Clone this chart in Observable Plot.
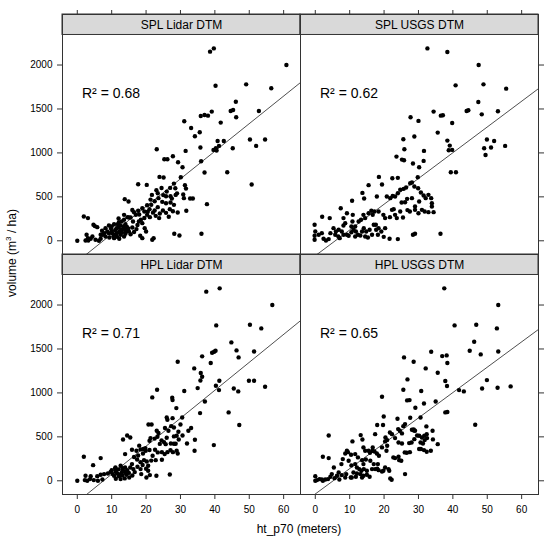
<!DOCTYPE html>
<html><head><meta charset="utf-8">
<script src="https://cdn.jsdelivr.net/npm/d3@7"></script>
<script src="https://cdn.jsdelivr.net/npm/@observablehq/plot@0.6"></script>
<style>body{margin:0;background:#fff}#chart{width:550px;height:541px}</style>
</head><body><div id="chart"></div>
<script>
// Panels (row = method, col = DTM source)
const panelNames = ["SPL Lidar DTM", "SPL USGS DTM", "HPL Lidar DTM", "HPL USGS DTM"];
const panelRows = ["SPL", "SPL", "HPL", "HPL"];
const panelCols = ["Lidar", "USGS", "Lidar", "USGS"];
const r2Values = ["0.68", "0.62", "0.71", "0.65"];
// fitted regression lines
const fitIntercepts = [-237, -170, -242, -150];
const fitSlopes = [31.4, 29.3, 31.8, 28.85];
const xTicks = [0, 10, 20, 30, 40, 50, 60];
const yTicks = [0, 500, 1000, 1500, 2000];

// [ht_p70 (m), volume (m3/ha)]
const splLidar = [[39.7,2189],[38.6,2152],[40.2,1765],[49.1,1780],[56.4,1735],[60.8,2000],
[46.1,1583],[44.6,1477],[45.3,1489],[46.2,1405],[52.8,1477],
[35.9,1420],[37.0,1432],[38.0,1424],[39.1,1470],[41.7,1345],[31.1,1360],[33.1,1284],[35.6,1235],[34.2,1189],
[40.8,1136],[42.6,1136],[41.2,1080],[40.3,1053],[39.6,1034],[40.5,1027],
[50.2,1152],[54.6,1152],[52.0,1080],[45.2,1053],[35.8,1061],[31.5,1023],[23.1,1042],
[36.0,905],[37.0,777],[43.6,780],[50.7,640],[37.7,417],[36.1,80],
[25.3,928],[26.2,928],[27.8,962],[29.3,894],[30.6,837],[23.9,727],[25.1,720],[30.1,723],
[31.3,632],[31.6,594],[28.1,651],[28.5,598],[27.0,602],[17.7,644],[20.2,636],
[23.0,575],[23.4,541],[21.7,522],[21.3,469],[23.6,485],[25.8,507],[27.1,507],[30.8,526],[31.0,485],[32.8,481],[33.6,481],[28.6,522],[31.7,341],
[27.1,435],[28.1,409],[24.7,443],[25.8,428],[20.3,405],[21.5,409],[22.5,345],[23.4,383],[24.9,345],[25.8,318],[26.9,360],[27.8,337],[29.2,322],[26.6,273],[22.8,284],[23.8,258],
[17.7,341],[18.9,371],[19.5,333],[16.5,326],[17.0,295],[20.3,295],[21.1,269],[17.9,220],[18.9,201],[19.6,144],[20.0,106],[18.3,57],[18.9,30],[21.8,11],[22.2,30],[28.2,80],[29.7,61],
[13.8,474],[14.9,447],[13.6,295],[14.6,269],[12.1,212],[12.9,220],[15.5,265],[16.2,220],[16.0,152],[17.2,133],[14.2,106],
[5.8,155],[7.2,114],[8.2,144],[9.2,174],[10.0,163],[10.7,189],[11.4,144],[12.2,106],[12.8,129],[11.1,68],[10.2,87],[9.2,87],[10.5,49],[11.6,45],[12.6,68],[13.6,49],[14.0,80],[15.0,106],[13.4,163],[14.4,159],[11.8,189],[8.7,106],[7.8,87],[6.8,68],[8.2,49],[9.3,38],[10.7,30],[12.2,23],
[1.9,276],[3.1,258],[4.7,182],[5.1,167],[0,0],[2.4,4],[3.2,4],[3.9,23],[5.3,11],[6.3,0],[2.7,68],[4.4,49],[7.3,68],[3.1,30],[6.8,23],[15.0,265],[13.6,239],
[11.0,120],[12.0,150],[13.0,95],[10.0,110],[11.5,85],[12.5,175],[9.8,140],[13.8,130],[14.8,140],[15.5,75],[16.5,100],[17.5,180],[18.5,240],[19.5,260],[20.5,330],[21.0,360],[22.0,320],[24.0,310],[25.0,520],[26.0,560],[27.5,480],[29.0,540],[24.5,600],[22.5,450],[16.0,350],[18.0,300],[14.0,190],[12.0,255]];

const splUsgs = [[32.6,2189],[38.4,2148],[47.5,2000],[40.8,1769],[48.9,1780],[55.5,1731],[47.4,1580],[44.0,1477],[44.5,1485],[48.4,1439],[53.1,1474],[34.4,1470],[36.5,1424],[37.1,1428],[27.7,1405],[30.0,1364],[39.8,1341],[35.6,1231],[25.6,1155],[28.8,1186],[38.4,1140],[39.1,1083],[38.8,1030],[39.8,1034],[49.9,1152],[52.0,1136],[49.1,1053],[51.1,1061],[49.5,977],[55.2,1080],[25.9,1042],[31.6,1023],[23.6,958],[25.2,924],[25.8,917],[28.4,879],[30.2,837],[31.5,909],[39.4,780],[40.9,780],[18.5,727],[22.4,712],[24.0,716],[29.8,723],[15.5,633],[19.4,640],[28.1,663],[13.7,545],[14.2,481],[10.7,455],[17.9,504],
[20.8,504],[21.8,485],[22.5,511],[23.2,504],[24.0,541],[24.7,580],[25.7,591],[26.4,606],[27.6,655],[28.8,617],[29.9,598],[30.7,549],[31.5,515],[32.9,523],[33.7,485],[33.9,428],[33.9,390],[34.4,326],[32.1,485],[30.2,447],[29.0,390],[28.1,485],[26.7,477],[25.1,435],[26.1,439],[26.8,349],[27.5,333],[29.0,352],[30.0,314],[31.0,352],[31.8,333],[32.9,326],[24.7,333],[25.5,265],[23.2,295],[23.7,258],[21.7,269],[22.3,352],[22.8,360],[19.8,295],[20.3,258],[18.4,333],[17.2,333],[16.3,341],[16.7,295],[17.6,182],[18.4,144],[19.2,106],[20.3,144],[18.2,68],[19.9,45],[21.6,23],[24.0,19],[28.4,68],[29.0,80],[36.4,80],[15.5,314],[14.0,295],[14.5,258],[12.6,220],[13.3,239],[10.9,295],[10.8,220],[9.2,314],[8.2,258],[7.4,371],[4.2,258],[2.0,273],[-0.2,182],[0,106],[-0.2,57],[-0.2,11],[1.0,68],[1.9,87],[2.4,23],[3.1,4],[3.9,19],[4.4,87],[5.3,144],[6.0,106],[6.7,49],[7.1,30],[7.7,106],[8.2,174],[8.7,201],[9.2,68],[9.7,57],[10.5,98],[11.1,125],[11.8,106],[12.4,68],[13.1,61],[13.6,106],[14.1,144],[14.8,106],[15.8,125],[16.5,68],[17.0,182],[17.7,125],[10.5,163],[11.6,163],[8.2,68],[6.8,125],[5.8,68],[14.5,49],[15.3,38],[11.6,49]];

const hplLidar = [[37.5,2152],[41.4,2190],[56.7,2000],[40.4,1768],[50.2,1776],[53.5,1734],[44.8,1575],[46.3,1484],[46.9,1404],[51.4,1472],[36.3,1416],[38.8,1340],[39.2,1457],[39.8,1469],[40.2,1480],[29.2,1355],[34.0,1279],[35.9,1226],[36.3,1184],[35.8,1142],[40.3,1082],[41.3,1138],[41.2,1032],[45.5,1051],[46.8,1017],[49.9,1138],[51.4,1138],[54.6,1070],[35.0,1055],[31.1,1021],[23.2,1036],[21.8,949],[37.1,903],[35.7,770],[44.0,778],[47.1,634],[39.7,406],[26.9,72],
[27.6,945],[27.7,918],[28.8,827],[30.5,721],[26.0,721],[26.2,694],[27.7,713],[20.7,641],[21.6,641],[27.3,622],[28.1,607],[29.4,558],[30.6,516],[31.9,425],[32.3,569],[33.1,600],[34.2,467],[34.1,341],
[23.1,569],[23.6,543],[21.3,486],[21.0,455],[23.3,501],[26.0,490],[28.1,505],[28.9,512],[27.2,425],[28.1,421],[28.6,421],[25.2,440],[25.7,417],[27.1,349],[27.8,326],[28.9,341],[29.2,311],[24.6,326],[25.4,304],[26.2,326],[22.6,353],[23.4,323],[24.6,239],[22.8,235],[21.9,285],
[14.5,516],[15.4,493],[13.3,470],[15.9,353],[13.9,304],[17.2,341],[18.4,357],[19.2,361],[19.8,372],[17.7,288],[19.1,311],[19.9,341],[17.4,243],[18.4,212],[19.4,235],[20.2,220],[20.0,137],[20.6,114],[21.1,65],[20.1,38],[23.0,57],[20.6,171],[18.4,133],[18.6,76],[15.4,152],[16.3,133],[13.9,152],[14.5,121],[12.6,171],[13.2,144],[11.6,83],[11.2,106],[9.7,102],[10.3,76],[8.9,83],[7.8,76],[6.8,68],[5.8,53],[10.7,57],[12.1,53],[13.1,61],[14.3,68],[15.1,38],[11.2,23],[12.6,19],[13.8,27],[1.9,273],[6.8,258],[4.6,178],[0,0],[2.2,8],[2.9,0],[2.4,57],[3.7,19],[4.8,8],[6.0,0],[7.3,15],[3.9,53],[15.9,190],[11.1,152],[16.7,99],
[12.0,130],[13.0,100],[14.0,90],[11.0,140],[10.0,120],[12.5,75],[13.5,110],[15.0,90],[16.0,60],[17.5,160],[19.0,180],[21.5,230],[22.5,480],[24.5,460],[25.5,600],[26.5,570],[29.5,470],[30.0,640],[24.0,420],[21.0,350],[18.0,400],[16.5,270]];

const hplUsgs = [[37.5,2190],[53.2,2000],[40.5,1768],[46.8,1776],[52.8,1734],[46.2,1582],[44.9,1480],[48.1,1438],[53.2,1472],[33.7,1469],[36.9,1419],[38.2,1427],[25.8,1404],[28.6,1355],[38.4,1340],[32.1,1279],[35.6,1230],[26.8,1154],[37.8,1135],[25.6,1036],[30.8,1021],[38.3,1078],[41.8,1032],[43.2,1017],[49.9,1146],[48.5,1051],[53.0,1059],[56.8,1074],[19.4,956],[26.7,915],[27.4,918],[29.1,831],[31.6,880],[35.0,903],[37.8,778],[38.4,782],[46.5,638],
[19.9,732],[19.7,634],[23.9,706],[27.6,717],[30.6,721],[26.1,645],[25.6,622],[28.1,581],[28.7,573],[32.3,619],[18.0,634],[17.4,531],[21.7,550],[22.3,531],[23.2,486],[20.4,493],[20.9,463],[20.3,448],[24.1,588],[24.6,569],[25.2,539],[28.6,584],[29.0,569],[29.6,516],[30.2,512],[31.7,512],[32.4,531],[34.1,569],[31.0,493],[31.8,463],[32.5,486],[34.2,471],[35.6,417],[30.6,436],[31.3,425],[30.7,361],[31.6,349],[33.6,341],[30.2,361],[32.4,330],[28.0,436],[27.3,429],[28.8,474],[24.2,436],[25.2,425],[22.7,266],[23.2,258],[24.2,273],[24.4,235],[25.0,228],[26.0,323],[26.6,319],[27.5,326],[20.9,398],[20.7,341],[17.2,334],[16.7,380],[16.6,341],[17.9,311],[18.5,285],[19.4,380],[21.3,133],[21.5,114],[21.8,27],[22.2,11],[20.3,152],[18.2,190],[18.0,137],[15.5,341],[15.9,319],[14.0,380],[14.5,341],[13.2,520],[13.7,470],[10.8,448],[9.2,341],[8.7,311],[9.5,326],[10.4,296],[8.0,247],[3.9,516],[2.2,273],[3.9,258],[5.4,152],[7.6,190],[9.7,228],[11.6,304],[12.4,266],[13.6,235],[14.0,190],[14.7,243],[16.0,228],[17.0,190],[10.5,175],[11.6,190],[12.1,152],[12.8,133],[13.4,114],[14.1,133],[15.0,114],[16.5,133],[17.4,133],[18.4,121],[19.4,106],[19.8,114],[11.1,95],[12.1,83],[13.1,76],[14.0,57],[15.0,68],[15.8,46],[10.6,38],[11.8,46],[13.6,38],[9.0,76],[8.7,38],[7.7,65],[6.8,95],[6.3,57],[5.6,30],[4.8,76],[4.4,46],[3.7,19],[2.9,15],[2.2,0],[1.9,15],[0,53],[0,0],[0.5,8],[1.2,19],[7.0,15],[26.1,76],[10.3,38]];

const panelData = [splLidar, splUsgs, hplLidar, hplUsgs];

// layout constants of the lattice panels
const xDomain = [-4.3, 64.9];
const yPanelBottom = -156, yPanelTop = 2342, yStripTop = 2575;

const facets = panelNames.map((name, i) => ({name, row: panelRows[i], col: panelCols[i], r2: r2Values[i]}));
const points = panelData.flatMap((arr, i) => arr.map(([x, y]) => ({x, y, row: panelRows[i], col: panelCols[i]})));
const fitPts = facets.flatMap((f, i) => xDomain.map(x => ({key: f.name, row: f.row, col: f.col, x, y: fitIntercepts[i] + fitSlopes[i] * x})));

const plot = Plot.plot({
  width: 550, height: 541,
  marginTop: 13, marginBottom: 47, marginLeft: 62, marginRight: 12,
  style: {fontFamily: "'Liberation Sans', Arial, sans-serif", fontSize: "10px", background: "#fff", color: "#000"},
  x: {domain: xDomain, axis: null},
  y: {domain: [yPanelBottom, yStripTop], axis: null},
  fx: {domain: ["Lidar", "USGS"], padding: 0, axis: null},
  fy: {domain: ["SPL", "HPL"], padding: 0, axis: null},
  marks: [
    Plot.rect(facets, {fx: "col", fy: "row", x1: () => xDomain[0], x2: () => xDomain[1], y1: () => yPanelTop, y2: () => yStripTop, fill: "#d9d9d9", stroke: "#333", strokeWidth: 1}),
    Plot.text(facets, {fx: "col", fy: "row", text: "name", frameAnchor: "top", lineAnchor: "middle", dy: 10.5, fontSize: 12, fill: "#000"}),
    Plot.line(fitPts, {fx: "col", fy: "row", x: "x", y: "y", z: "key", stroke: "#222", strokeWidth: 0.8, clip: true}),
    Plot.dot(points, {fx: "col", fy: "row", x: "x", y: "y", r: 2.2, fill: "#000"}),
    Plot.text(facets, {fx: "col", fy: "row", text: d => "R² = " + d.r2, frameAnchor: "top-left", lineAnchor: "middle", dx: 19.5, dy: 79, textAnchor: "start", fontSize: 14, fill: "#000"}),
    Plot.frame({stroke: "#333", strokeWidth: 1}),
    Plot.axisX({anchor: "bottom", ticks: xTicks, tickFormat: d3.format("d"), tickSize: 5, tickPadding: 6, fontSize: 10, label: null, stroke: "#333"}),
    Plot.axisX({anchor: "top", ticks: xTicks, tickSize: 5, fill: "none", label: null, stroke: "#333"}),
    Plot.axisY({anchor: "left", ticks: yTicks, tickFormat: d3.format("d"), tickSize: 5, tickPadding: 5, fontSize: 10, label: null, stroke: "#333"}),
    Plot.axisY({anchor: "right", ticks: yTicks, tickSize: 5, fill: "none", label: null, stroke: "#333"})
  ]
});
document.getElementById("chart").appendChild(plot);

// axis titles
const svg = d3.select(plot);
svg.append("text").attr("x", 299).attr("y", 530).attr("text-anchor", "middle").attr("dominant-baseline", "middle")
  .attr("font-size", 12).attr("fill", "#000").text("ht_p70 (meters)");
const yt = svg.append("text").attr("transform", "translate(13,253) rotate(-90)").attr("text-anchor", "middle")
  .attr("dominant-baseline", "middle").attr("font-size", 12).attr("fill", "#000");
yt.append("tspan").text("volume (m");
yt.append("tspan").attr("dy", -4).attr("font-size", 8).text("3");
yt.append("tspan").attr("dy", 4).text(" / ha)");
</script></body></html>
